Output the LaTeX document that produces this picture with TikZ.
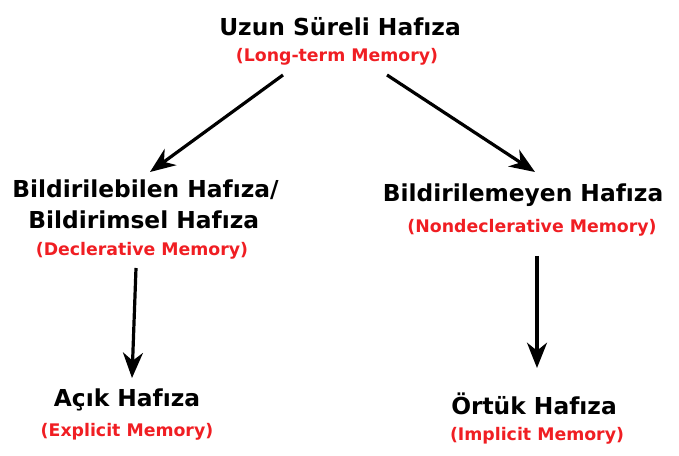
\documentclass[tikz,border=0pt]{standalone}
\usepackage{fontspec}
\setmainfont{DejaVu Sans}
\usetikzlibrary{arrows.meta}
\definecolor{lblred}{RGB}{240,30,35}
\begin{document}
\begin{tikzpicture}[x=0.75pt,y=-0.75pt,
  title/.style={font=\bfseries\fontsize{17.5}{20}\selectfont,inner sep=0},
  sub/.style={font=\bfseries\fontsize{13}{15}\selectfont,text=lblred,inner sep=0},
  arr/.style={line width=2.4pt,-{Stealth[length=19pt,width=15pt,inset=6pt]}}]
\useasboundingbox (0,0) rectangle (679,456);
\node[title] (t1) at (340,27) {Uzun Süreli Hafıza};
\node[sub] (s1) at (337,57) {(Long-term Memory)};
\node[title,anchor=west] (t2a) at (12,190) {Bildirilebilen Hafıza/};
\node[title,anchor=west] (t2b) at (28,220) {Bildirimsel Hafıza};
\node[sub] (s2) at (142,251) {(Declerative Memory)};
\node[title] (t3) at (523,195) {Bildirilemeyen Hafıza};
\node[sub] (s3) at (532,228) {(Nondeclerative Memory)};
\node[title] (t4) at (127,400) {Açık Hafıza};
\node[sub] (s4) at (127,432) {(Explicit Memory)};
\node[title] (t5) at (534,404) {Örtük Hafıza};
\node[sub] (s5) at (537,436) {(Implicit Memory)};
\coordinate (a1s) at (283,75); \coordinate (a1e) at (150,172);
\coordinate (a2s) at (387,75); \coordinate (a2e) at (535,172);
\coordinate (a3s) at (136,268); \coordinate (a3e) at (132,378);
\coordinate (a4s) at (537,256); \coordinate (a4e) at (537,368);
\draw[arr] (a1s) -- (a1e);
\draw[arr] (a2s) -- (a2e);
\draw[arr] (a3s) -- (a3e);
\draw[arr] (a4s) -- (a4e);
\end{tikzpicture}
\end{document}
